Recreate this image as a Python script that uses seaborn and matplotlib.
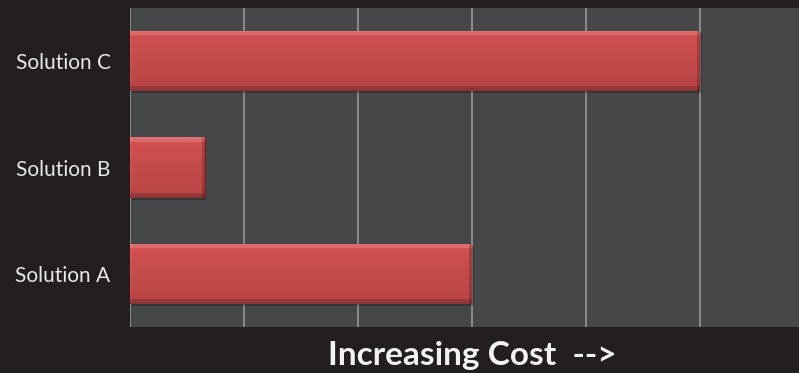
import numpy as np
import pandas as pd
import matplotlib
matplotlib.use("Agg")
import matplotlib.pyplot as plt
from matplotlib import patheffects as pe
from matplotlib.colors import to_rgb
import seaborn as sns

# Chart data
solutions = ["Solution C", "Solution B", "Solution A"]
cost = [5.0, 0.65, 3.0]
grid_ticks = [0, 1, 2, 3, 4, 5]
axis_title = "Increasing Cost  -->"

sns.set_theme(style="dark")
plt.rcParams["font.family"] = ["Lato", "DejaVu Sans"]

BG = "#231f20"
PANEL = "#464749"
GRID = "#8a8a8a"
BAR = "#c94a4a"

fig = plt.figure(figsize=(7.99, 3.73), dpi=100, facecolor=BG)
ax = fig.add_axes([130 / 799, 1 - 327 / 373, 669 / 799, 319 / 373])

df = pd.DataFrame({"solution": solutions, "cost": cost})
sns.barplot(data=df, x="cost", y="solution", orient="h", color=BAR,
            saturation=1, width=0.566, ax=ax, linewidth=0)

ax.set_facecolor(PANEL)
ax.set_xlim(0, 669 / 114)
ax.set_ylim(2.5, -0.5)
ax.set_xticks(grid_ticks)
ax.grid(axis="x", color=GRID, linewidth=1.4)
ax.grid(axis="y", visible=False)
ax.set_axisbelow(True)
for s in ax.spines.values():
    s.set_visible(False)
ax.tick_params(axis="x", labelbottom=False, length=0)
ax.tick_params(axis="y", length=0, pad=14, labelsize=15, labelcolor="#e8e8e8")
ax.set_ylabel("")
ax.set_xlabel(axis_title, fontsize=24, fontweight="bold", color="#f2f2f2")
ax.xaxis.label.set_va("center")
ax.xaxis.set_label_coords((472 - 130) / 669, -(356 - 327) / 319)

# Bevelled, shaded fill for every bar, built from the bar geometry itself
fig.canvas.draw()
top_c = np.array(to_rgb("#e27272"))
upper = np.array(to_rgb("#d25252"))
lower = np.array(to_rgb("#b84444"))
bottom_c = np.array(to_rgb("#8c3434"))
for patch in list(ax.patches):
    x0, y0 = patch.get_x(), patch.get_y()
    w, h = patch.get_width(), patch.get_height()
    (px0, py0), (px1, py1) = ax.transData.transform([(x0, y0), (x0 + w, y0 + h)])
    nc = max(int(abs(px1 - px0)), 2)
    nr = max(int(abs(py1 - py0)), 2)
    t = np.linspace(0, 1, nr)[:, None]
    col = upper[None, :] * (1 - t) + lower[None, :] * t
    img = np.repeat(col[:, None, :], nc, axis=1)
    bev = 5
    img[:bev] = top_c * 0.8 + img[:bev] * 0.2
    img[0:2] = top_c
    img[-bev:] = bottom_c * 0.7 + img[-bev:] * 0.3
    img[-2:] = bottom_c
    img[:, -3:] = img[:, -3:] * 0.8
    img[:, :2] = np.clip(img[:, :2] * 1.06, 0, 1)
    im = ax.imshow(img, extent=[x0, x0 + w, y0 + h, y0], origin="upper",
                   aspect="auto", interpolation="bilinear", zorder=patch.get_zorder() + 0.1)
    im.set_clip_path(patch)
    patch.set_path_effects([pe.SimplePatchShadow(offset=(1.5, -1.5), shadow_rgbFace="black", alpha=0.25),
                            pe.Normal()])

ax.set_xlim(0, 669 / 114)
ax.set_ylim(2.5, -0.5)

fig.savefig("out.png", dpi=100, facecolor=BG)
